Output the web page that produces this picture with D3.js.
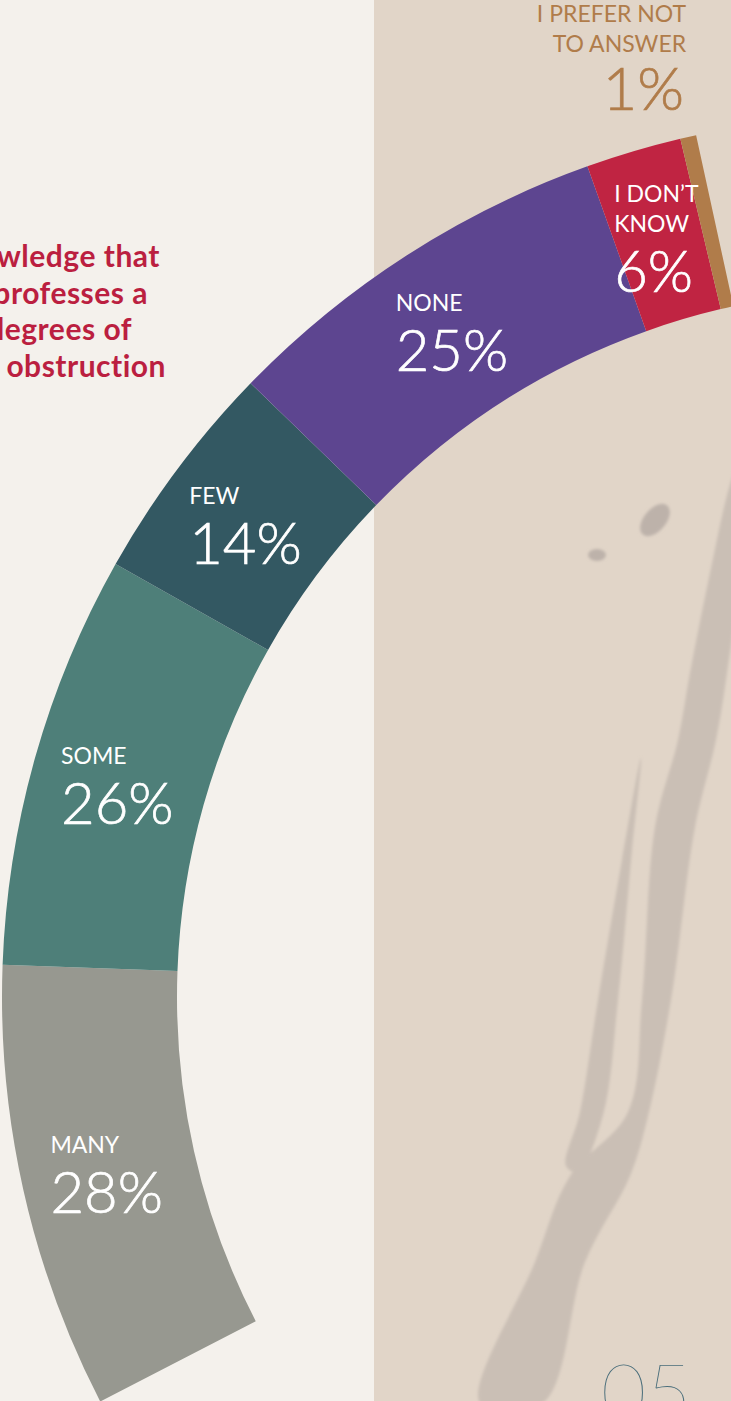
<!DOCTYPE html>
<html>
<head>
<meta charset="utf-8">
<script src="https://cdn.jsdelivr.net/npm/d3@7/dist/d3.min.js"></script>
<style>
  html, body { margin: 0; padding: 0; background: #f4f1ec; }
  svg { display: block; }
  text { font-family: Lato, "Open Sans", sans-serif; }
</style>
</head>
<body>
<svg id="chart" width="731" height="1401"></svg>
<script>
// Survey answers, in the order they run along the arc
const categories = ["MANY", "SOME", "FEW", "NONE", "I DON\u2019T\nKNOW", "I PREFER NOT\nTO ANSWER"];
const shares = [28, 26, 14, 25, 6, 1];
const colors = ["#979890", "#4e7f79", "#335862", "#5d4590", "#c02442", "#b07c4a"];

// Heading fragment on the left edge of the page
const headingLines = ["acknowledge that", "the government professes a", "varying degrees of", "of obstruction"];
const pageNumber = "05";

const W = 731, H = 1401;
const svg = d3.select("#chart");
const deg = Math.PI / 180;

// ---- page background ----
svg.append("rect").attr("x", 0).attr("y", 0).attr("width", W).attr("height", H).attr("fill", "#f4f1ec");
svg.append("rect").attr("x", 374).attr("y", 0).attr("width", W - 374).attr("height", H).attr("fill", "#e1d5c8");

const defs = svg.append("defs");
defs.append("filter").attr("id", "soft").append("feGaussianBlur").attr("stdDeviation", 1.4);

// brush marks on the beige panel
const brush = svg.append("g").attr("filter", "url(#soft)").attr("fill", "#cabfb5");
const line = d3.line().curve(d3.curveCatmullRomClosed);
brush.append("path").attr("d", line([
  [736, 470], [736, 600], [727, 673], [716, 740], [695, 827], [671, 1000], [648, 1116], [630, 1176], [585, 1262], [543, 1403],
  [480, 1403], [535, 1262], [570, 1176], [628, 1112], [642, 1000], [655, 827], [678, 740], [690, 673], [710, 573], [729, 488]
]));
brush.append("path").attr("d", line([
  [641, 758], [632, 850], [618, 1000], [603, 1115], [578, 1172], [566, 1166], [580, 1112], [598, 1000], [622, 860]
]));
const spots = svg.append("g").attr("filter", "url(#soft)").attr("fill", "#bdb2aa");
spots.append("ellipse").attr("cx", 655).attr("cy", 520).attr("rx", 11).attr("ry", 19).attr("transform", "rotate(40 655 520)");
spots.append("ellipse").attr("cx", 597).attr("cy", 555).attr("rx", 9).attr("ry", 6);

// ---- heading (clipped by the page's left edge) ----
const headEnds = [160, 148, 132, 166];
svg.append("g").selectAll("text").data(headingLines).join("text")
  .attr("x", (d, i) => headEnds[i])
  .attr("y", (d, i) => 267 + i * 36.7)
  .attr("text-anchor", "end")
  .attr("fill", "#bb1f40")
  .attr("font-weight", 700)
  .attr("font-size", 30)
  .attr("letter-spacing", 0.5)
  .text(d => d);

// ---- the arc ----
const cx = 884, cy = 997;
const innerR = 707, outerR = 882;
const data = categories.map((c, i) => ({ label: c, value: shares[i], color: colors[i] }));

const pie = d3.pie().sort(null).value(d => d.value)
  .startAngle(-117.3 * deg).endAngle(-12.3 * deg);
const arc = d3.arc().innerRadius(innerR).outerRadius(outerR);
const arcs = pie(data);

const g = svg.append("g").attr("transform", `translate(${cx},${cy})`);
g.selectAll("path.seg").data(arcs).join("path")
  .attr("class", "seg")
  .attr("d", arc)
  .attr("fill", d => d.data.color);

// ---- labels ----
const catSize = 23, pctSize = 58, lineGap = 30, pctGap = 60;

arcs.forEach(a => {
  const lines = a.data.label.split("\n");
  const pct = a.data.value + "%";
  if (a.data.value >= 3) {
    // inside the segment: a left-aligned block centred on the centroid
    const [mx, my] = arc.centroid(a);
    const lab = g.append("g");
    const cats = lines.map((t, i) => lab.append("text")
      .attr("y", i * lineGap)
      .attr("font-size", catSize).attr("fill", "#fff").text(t));
    const p = lab.append("text")
      .attr("y", (lines.length - 1) * lineGap + pctGap)
      .attr("font-size", pctSize).attr("font-weight", 300)
      .attr("fill", "#fff").attr("stroke", "#fff").attr("stroke-width", 0.7)
      .text(pct);
    const widths = cats.map(c => c.node().getComputedTextLength()).concat(p.node().getComputedTextLength());
    const w = d3.max(widths);
    const top = -catSize * 0.72, bottom = (lines.length - 1) * lineGap + pctGap;
    const x0 = mx - w / 2 - 2;
    const y0 = my + 4 - (top + bottom) / 2;
    lab.attr("transform", `translate(${x0},${y0})`);
  } else {
    // too thin to hold text: label sits above the outer end of the arc
    const ex = outerR * Math.sin(a.endAngle), ey = -outerR * Math.cos(a.endAngle);
    const lab = g.append("g").attr("transform", `translate(${ex - 10},${ey})`)
      .attr("text-anchor", "end").attr("fill", a.data.color);
    lines.forEach((t, i) => lab.append("text")
      .attr("y", -113 + i * lineGap).attr("font-size", catSize).text(t));
    lab.append("text").attr("x", -2).attr("y", -25)
      .attr("font-size", pctSize + 2).attr("font-weight", 300)
      .attr("stroke", a.data.color).attr("stroke-width", 0.7).text(pct);
  }
});

// ---- page number ----
svg.append("text")
  .attr("x", 601).attr("y", 1420)
  .attr("font-size", 78).attr("font-weight", 100)
  .attr("fill", "#4a6e7b")
  .text(pageNumber);
</script>
</body>
</html>
